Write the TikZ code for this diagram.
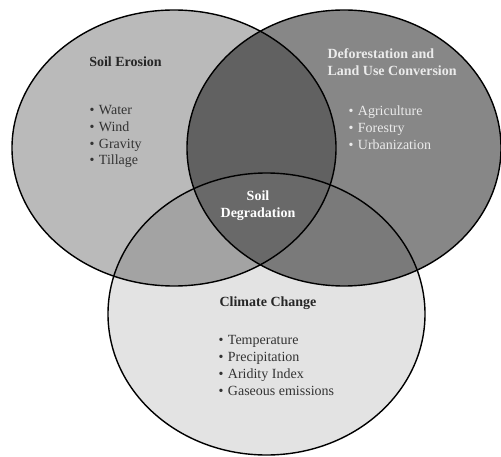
\documentclass[tikz,border=0pt]{standalone}
\usepackage{fontspec}
\setmainfont{Liberation Serif}
\usetikzlibrary{positioning}
\definecolor{erosion}{gray}{0.73}
\definecolor{defor}{gray}{0.53}
\definecolor{climate}{gray}{0.89}
\definecolor{erodefor}{gray}{0.38}
\definecolor{eroclim}{gray}{0.64}
\definecolor{deforclim}{gray}{0.48}
\definecolor{core}{gray}{0.41}
\newcommand{\itm}{\textbullet\hspace{4.5pt}}
\tikzset{
	venn/.style={draw=black, line width=1.4pt},
	title/.style={font=\fontsize{14}{17}\selectfont\bfseries, align=left},
	items/.style={font=\fontsize{14}{16.9}\selectfont, align=left, anchor=west},
}

\begin{document}
\begin{tikzpicture}[x=1pt,y=1pt]
	\useasboundingbox (0,0) rectangle (501,456);
	\def\ellE{(174,308) ellipse [x radius=162, y radius=138]}
	\def\ellD{(344,308) ellipse [x radius=157, y radius=138]}
	\def\ellC{(266.5,142) ellipse [x radius=158.5, y radius=141]}
	% fills
	\fill[erosion] \ellE;
	\fill[defor] \ellD;
	\fill[climate] \ellC;
	\begin{scope} \clip \ellE; \fill[erodefor] \ellD; \end{scope}
	\begin{scope} \clip \ellE; \fill[eroclim] \ellC; \end{scope}
	\begin{scope} \clip \ellD; \fill[deforclim] \ellC; \end{scope}
	\begin{scope} \clip \ellE; \clip \ellD; \fill[core] \ellC; \end{scope}
	% outlines
	\draw[venn] \ellE;
	\draw[venn] \ellD;
	\draw[venn] \ellC;
	% texts
	\node[title, text=black!85] (erosion) at (125.5,394) {Soil Erosion};
	\node[items, text=black!80] (erosionlist) at (86,319.5) {\itm Water\\\itm Wind\\\itm Gravity\\\itm Tillage};
	\node[title, anchor=west, text=white!92!black] (defor) at (324,394) {Deforestation and\\Land Use Conversion};
	\node[items, text=white!92!black] (deforlist) at (345,328) {\itm Agriculture\\\itm Forestry\\\itm Urbanization};
	\node[title, align=center, text=white] (core) at (258,250) {Soil\\Degradation};
	\node[title, text=black!85] (climate) at (268,153) {Climate Change};
	\node[items, text=black!80] (climatelist) at (215,90.5) {\itm Temperature\\\itm Precipitation\\\itm Aridity Index\\\itm Gaseous emissions};
\end{tikzpicture}
\end{document}
